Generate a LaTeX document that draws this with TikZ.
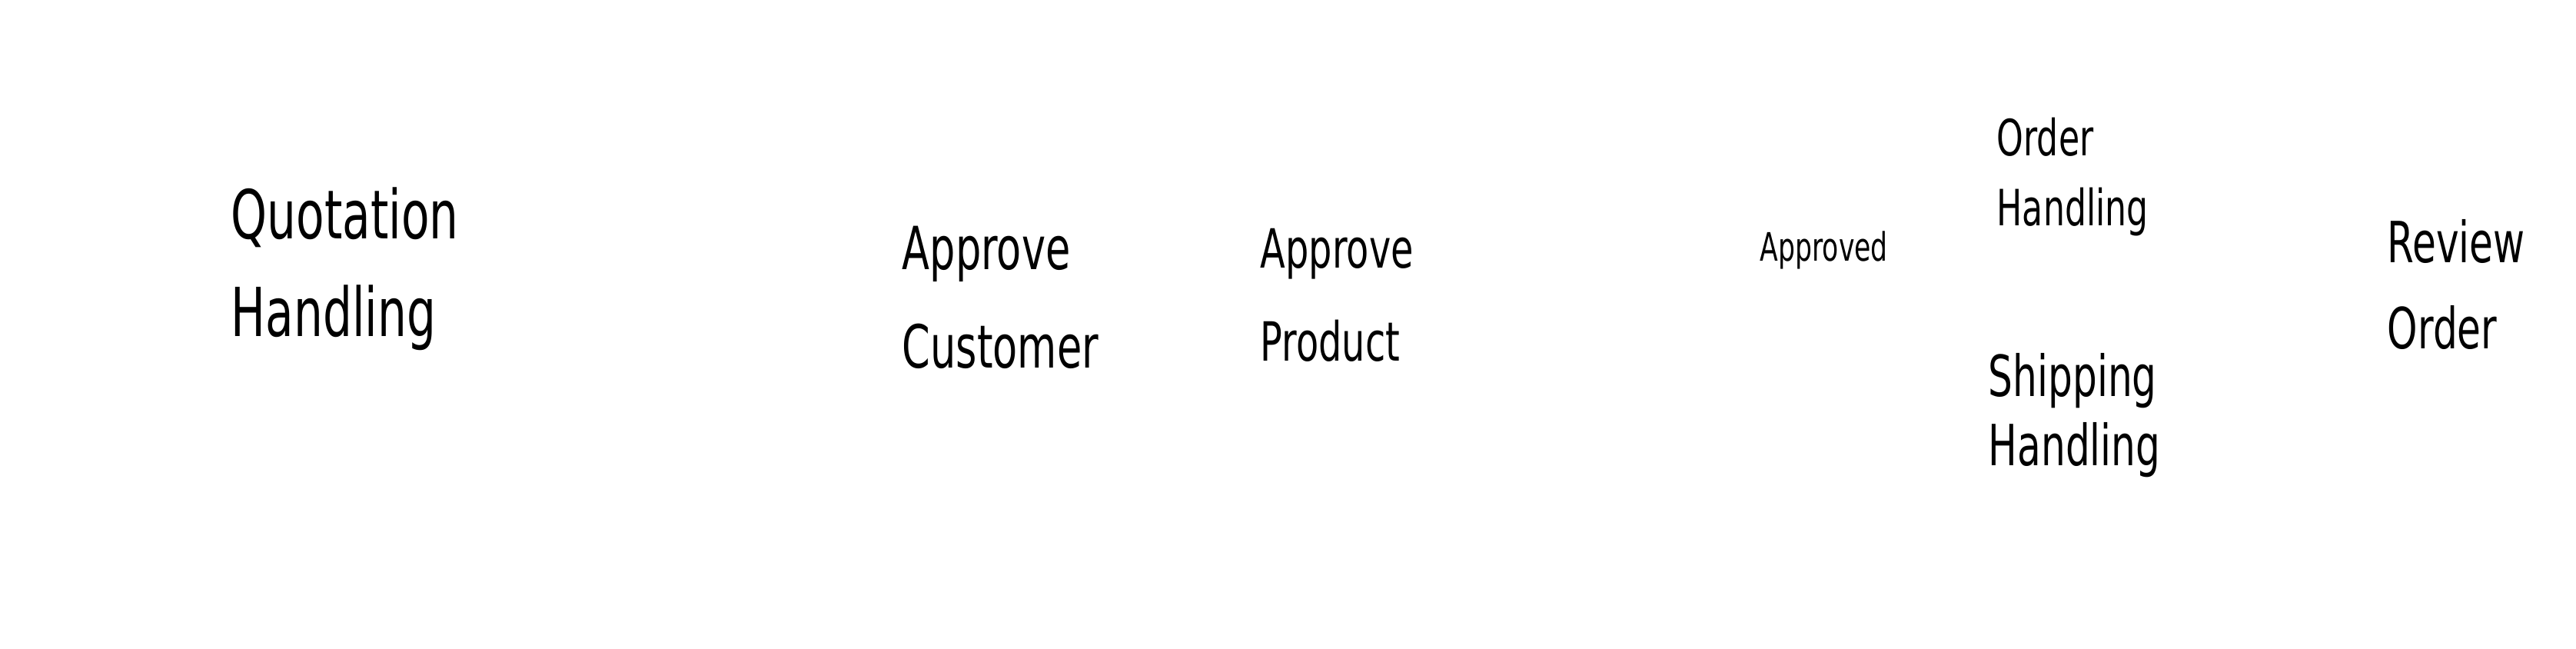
\documentclass[tikz,border=0pt]{standalone}
\usepackage{fontspec}
\newfontfamily\handfont[FakeStretch=0.68]{DejaVu Sans}
\tikzset{
  lbl/.style={anchor=west, align=left, inner sep=0pt},
}
\begin{document}
\begin{tikzpicture}
\useasboundingbox (0,0) rectangle (33.51,-8.44);
% Activities
\node[lbl, font=\handfont\fontsize{25}{36}\selectfont] (quot) at (3.00,-3.50) {Quotation\\Handling};
\node[lbl, font=\handfont\fontsize{22}{36.5}\selectfont] (appcust) at (11.73,-3.87) {Approve\\Customer};
\node[lbl, font=\handfont\fontsize{20}{34.5}\selectfont] (appprod) at (16.39,-3.84) {Approve\\Product};
\node[lbl, font=\handfont\fontsize{14.5}{17}\selectfont] (approved) at (22.89,-3.25) {Approved};
\node[lbl, font=\handfont\fontsize{18.5}{26}\selectfont] (order) at (25.97,-2.30) {Order\\Handling};
\node[lbl, font=\handfont\fontsize{21}{25.6}\selectfont] (ship) at (25.86,-5.40) {Shipping\\Handling};
\node[lbl, font=\handfont\fontsize{21}{32}\selectfont] (review) at (31.05,-3.70) {Review\\Order};
\end{tikzpicture}
\end{document}
